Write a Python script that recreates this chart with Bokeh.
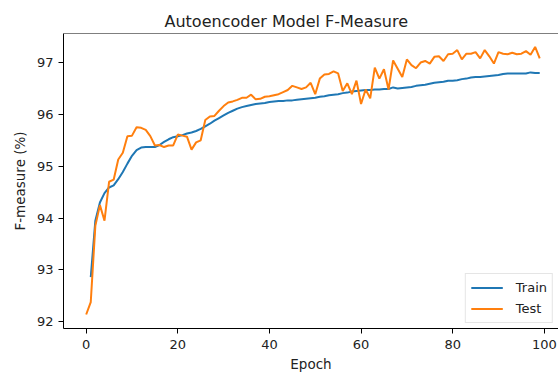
from bokeh.plotting import figure
from bokeh.models import FixedTicker, Span, Range1d, Legend, LegendItem
from bokeh.embed import file_html
from bokeh.resources import INLINE

train_epochs = list(range(1, 100))
train_fm = [92.86, 93.95, 94.30, 94.48, 94.59, 94.63, 94.75, 94.89, 95.05, 95.20,
            95.31, 95.36, 95.37, 95.37, 95.37, 95.41, 95.47, 95.52, 95.56, 95.58,
            95.60, 95.63, 95.65, 95.68, 95.72, 95.77, 95.82, 95.88, 95.93, 95.98,
            96.03, 96.07, 96.11, 96.14, 96.16, 96.18, 96.20, 96.21, 96.22, 96.24,
            96.25, 96.26, 96.26, 96.27, 96.27, 96.28, 96.29, 96.30, 96.31, 96.32,
            96.34, 96.35, 96.37, 96.38, 96.39, 96.41, 96.42, 96.44, 96.45, 96.46,
            96.47, 96.47, 96.48, 96.48, 96.49, 96.49, 96.52, 96.50, 96.51, 96.52,
            96.53, 96.55, 96.56, 96.57, 96.59, 96.61, 96.62, 96.63, 96.65, 96.65,
            96.66, 96.68, 96.69, 96.71, 96.72, 96.72, 96.73, 96.74, 96.75, 96.76,
            96.78, 96.79, 96.79, 96.79, 96.79, 96.79, 96.81, 96.80, 96.80]

test_epochs = list(range(0, 100))
test_fm = [92.14, 92.38, 93.85, 94.25, 93.95, 94.70, 94.74, 95.13, 95.26, 95.58,
           95.59, 95.75, 95.74, 95.70, 95.58, 95.40, 95.41, 95.37, 95.40, 95.40,
           95.61, 95.59, 95.57, 95.32, 95.46, 95.50, 95.89, 95.96, 95.97, 96.07,
           96.16, 96.23, 96.25, 96.28, 96.32, 96.32, 96.38, 96.29, 96.30, 96.34,
           96.35, 96.37, 96.39, 96.43, 96.47, 96.55, 96.52, 96.49, 96.52, 96.61,
           96.39, 96.69, 96.77, 96.78, 96.83, 96.79, 96.45, 96.60, 96.39, 96.65,
           96.20, 96.48, 96.31, 96.90, 96.69, 96.87, 96.48, 97.04, 96.88, 96.72,
           97.06, 96.95, 96.89, 97.00, 97.03, 96.98, 97.11, 97.12, 97.03, 97.16,
           97.17, 97.24, 97.06, 97.17, 97.17, 97.20, 97.08, 97.24, 97.12, 96.98,
           97.20, 97.17, 97.16, 97.19, 97.16, 97.17, 97.22, 97.15, 97.30, 97.08]

x_ticks = [0, 20, 40, 60, 80, 100]
y_ticks = [92, 93, 94, 95, 96, 97]

FONT = "DejaVu Sans"
TXT = "#222222"

p = figure(width=558, height=374, output_backend="svg", toolbar_location=None,
           x_range=Range1d(-4.95, 103.1), y_range=Range1d(91.87, 97.56),
           min_border_left=63, min_border_right=0, min_border_top=33, min_border_bottom=44,
           title="Autoencoder Model F-Measure")
p.background_fill_color = "white"
p.border_fill_color = "white"
p.outline_line_color = None
p.xgrid.visible = False
p.ygrid.visible = False

p.title.text_font = FONT
p.title.text_font_size = "16px"
p.title.text_font_style = "normal"
p.title.text_color = TXT
p.title.align = "left"
p.title.offset = 101
p.title.standoff = 6

for ax in (p.xaxis[0], p.yaxis[0]):
    ax.axis_line_color = "black"
    ax.axis_line_width = 1
    ax.major_tick_line_color = "black"
    ax.major_tick_out = 5
    ax.major_tick_in = 0
    ax.minor_tick_line_color = None
    ax.major_label_text_font = FONT
    ax.major_label_text_font_size = "13px"
    ax.major_label_text_color = TXT
    ax.axis_label_text_font = FONT
    ax.axis_label_text_font_size = "13.5px"
    ax.axis_label_text_font_style = "normal"
    ax.axis_label_text_color = TXT

p.xaxis.ticker = FixedTicker(ticks=x_ticks)
p.yaxis.ticker = FixedTicker(ticks=y_ticks)
p.xaxis.axis_label = "Epoch"
p.yaxis.axis_label = "F-measure (%)"
p.xaxis.major_label_standoff = 6
p.yaxis.major_label_standoff = 5
p.xaxis.axis_label_standoff = 4
p.yaxis.axis_label_standoff = 6

top_line = Span(location=97.56, dimension="width", line_color="black", line_width=1)
p.add_layout(top_line)

r_train = p.line(train_epochs, train_fm, line_color="#1f77b4", line_width=2)
r_test = p.line(test_epochs, test_fm, line_color="#ff7f0e", line_width=2)

legend = Legend(items=[LegendItem(label="Train", renderers=[r_train]),
                       LegendItem(label="Test", renderers=[r_test])],
                location="bottom_right")
legend.label_text_font = FONT
legend.label_text_font_size = "13px"
legend.label_text_color = TXT
legend.glyph_width = 32
legend.glyph_height = 17
legend.label_height = 17
legend.label_standoff = 13
legend.spacing = 4
legend.padding = 5
legend.margin = 5
legend.border_line_color = "#cccccc"
legend.border_line_width = 1
legend.background_fill_alpha = 0.8
p.add_layout(legend)

open("out.html", "w").write(file_html(p, INLINE))
